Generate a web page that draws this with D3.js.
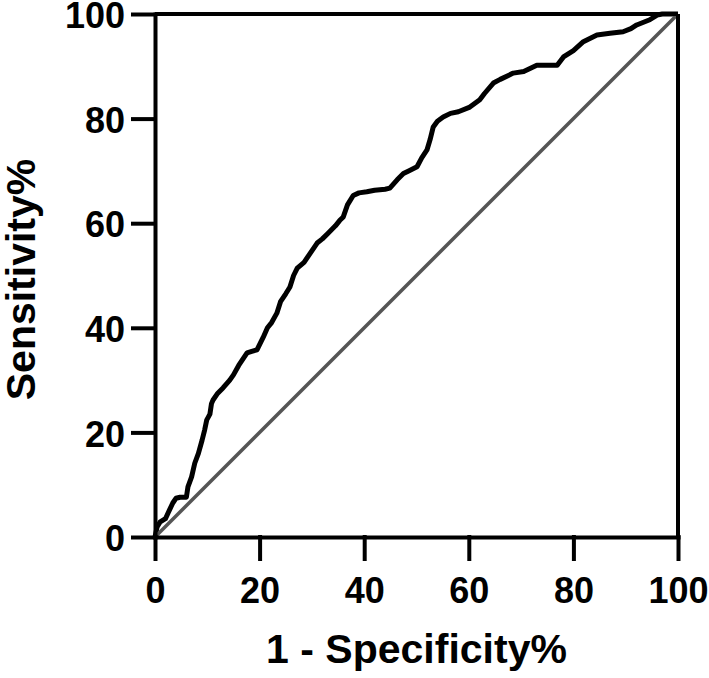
<!DOCTYPE html>
<html>
<head>
<meta charset="utf-8">
<script src="https://cdn.jsdelivr.net/npm/d3@7"></script>
<style>
  body { margin: 0; background: #fff; }
  svg { display: block; }
  .axis text { font-family: "Liberation Sans", Arial, sans-serif; font-weight: bold; font-size: 36px; fill: #000; }
  .axis path, .axis line { stroke: #000; stroke-width: 4; stroke-linecap: square; }
  .title { font-family: "Liberation Sans", Arial, sans-serif; font-weight: bold; font-size: 41px; fill: #000; }
</style>
</head>
<body>
<div id="chart"></div>
<script>
// ROC curve points (1 - specificity %, sensitivity %)
var fpr = [0, 0.4, 1.0, 2.0, 2.5, 3.4, 4.0, 4.8, 6.0, 6.3, 7.0, 7.6, 8.3, 9.0, 9.5, 9.9, 10.5, 10.8, 11.1, 12,
  13, 14.3, 15, 16, 17.6, 18.5, 19.5, 20.7, 21.5, 22.3, 23.3, 24, 25, 25.8, 26.5, 27.2, 28.5, 29.5, 31.0, 32,
  33, 34.5, 35.3, 36.0, 36.8, 37.9, 39, 40.5, 42, 44, 44.9, 46.3, 47.5, 48.5, 50.1, 51, 52.0, 52.6, 53.2, 54,
  55.1, 56.5, 58, 60.2, 62.1, 63, 64.7, 66, 68.5, 70.5, 73.0, 76.9, 78.1, 80, 81.9, 84.5, 87, 89.5, 91, 92.1,
  94.6, 96, 97, 100];
var tpr = [0, 1.9, 2.9, 3.5, 4.6, 6.5, 7.4, 7.6, 7.6, 9.6, 11.5, 14.1, 16, 18.5, 20.5, 22.4, 23.5, 25.5, 26.2, 27.5,
  28.5, 30.0, 31, 32.8, 35.2, 35.5, 35.8, 38.2, 40, 41, 42.8, 45, 46.5, 47.8, 50, 51.4, 52.5, 54, 56.2, 57,
  58, 59.5, 60.5, 61.2, 63.5, 65.3, 65.8, 66, 66.3, 66.5, 66.7, 68.3, 69.5, 70, 70.8, 72.5, 74.0, 76, 78.4, 79.5,
  80.3, 81, 81.3, 82.2, 83.6, 84.8, 86.8, 87.5, 88.7, 89, 90.2, 90.2, 91.8, 93, 94.7, 96.0, 96.3, 96.6, 97.2, 97.9,
  98.9, 99.8, 100, 100];
var chanceLine = [0, 100];
var tickValues = [0, 20, 40, 60, 80, 100];
var xTitle = "1 - Specificity%";
var yTitle = "Sensitivity%";

var width = 709, height = 678;
var margin = {top: 14, left: 155};
var plotW = 523, plotH = 523;

var svg = d3.select("#chart").append("svg")
  .attr("width", width)
  .attr("height", height);

var g = svg.append("g")
  .attr("transform", "translate(" + margin.left + "," + margin.top + ")");

var x = d3.scaleLinear().domain([0, 100]).range([0, plotW]);
var y = d3.scaleLinear().domain([0, 100]).range([plotH, 0]);

var rocData = fpr.map(function(d, i) { return {x: d, y: tpr[i]}; });

var line = d3.line()
  .x(function(d) { return x(d.x); })
  .y(function(d) { return y(d.y); });

g.append("path")
  .datum(rocData)
  .attr("fill", "none")
  .attr("stroke", "#000")
  .attr("stroke-width", 5)
  .attr("stroke-linejoin", "round")
  .attr("d", line);

// reference diagonal
g.append("path")
  .datum(chanceLine.map(function(d) { return {x: d, y: d}; }))
  .attr("fill", "none")
  .attr("stroke", "#555")
  .attr("stroke-width", 3.5)
  .attr("d", line);

// box top and right
g.append("line")
  .attr("x1", x(0)).attr("x2", x(100))
  .attr("y1", y(100)).attr("y2", y(100))
  .attr("stroke", "#000").attr("stroke-width", 4);
g.append("line")
  .attr("x1", x(100)).attr("x2", x(100))
  .attr("y1", y(100)).attr("y2", y(0))
  .attr("stroke", "#000").attr("stroke-width", 4);

g.append("g")
  .attr("class", "axis")
  .attr("transform", "translate(0," + plotH + ")")
  .call(d3.axisBottom(x).tickValues(tickValues).tickSize(22).tickSizeOuter(0).tickPadding(18));

g.append("g")
  .attr("class", "axis")
  .call(d3.axisLeft(y).tickValues(tickValues).tickSize(22).tickSizeOuter(0).tickPadding(8))
  .selectAll(".tick text")
  .attr("dy", "0.38em");

svg.append("text")
  .attr("class", "title")
  .attr("x", margin.left + plotW / 2)
  .attr("y", 663)
  .attr("text-anchor", "middle")
  .text(xTitle);

svg.append("text")
  .attr("class", "title")
  .attr("transform", "translate(35," + (margin.top + plotH / 2 + 4) + ") rotate(-90)")
  .attr("text-anchor", "middle")
  .text(yTitle);
</script>
</body>
</html>
